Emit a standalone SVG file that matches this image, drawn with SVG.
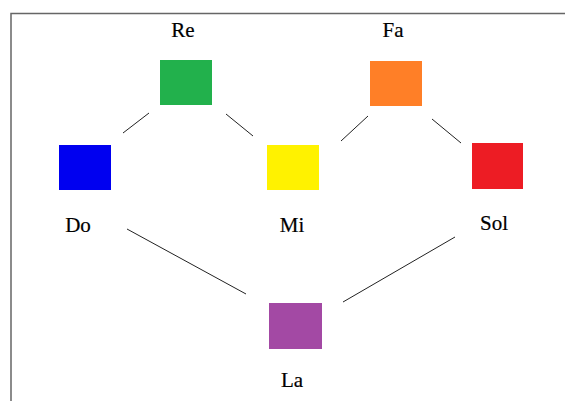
<svg xmlns="http://www.w3.org/2000/svg" width="565" height="401" viewBox="0 0 565 401">
<style>
.lbl{font-family:"Liberation Serif","Times New Roman",serif;font-size:21px;fill:#000;stroke:#000;stroke-width:0.2;text-anchor:middle}
.edge{stroke:#222;stroke-width:1;fill:none}
</style>
<rect width="565" height="401" fill="#fff"/>
<path d="M11 401 V13.5 H565" fill="none" stroke="#666" stroke-width="1.5"/>
<g id="connectors">
<line class="edge" x1="123" y1="133" x2="149" y2="113"/>
<line class="edge" x1="226" y1="114" x2="253" y2="136"/>
<line class="edge" x1="368" y1="116" x2="341" y2="141"/>
<line class="edge" x1="432" y1="119" x2="461" y2="143"/>
<line class="edge" x1="127" y1="229" x2="246" y2="294"/>
<line class="edge" x1="455" y1="237" x2="343" y2="302"/>
</g>
<g id="Re"><rect x="160" y="60" width="52" height="45" fill="#22b14c"/><text class="lbl" x="183" y="37">Re</text></g>
<g id="Fa"><rect x="370" y="61" width="52" height="45" fill="#ff7f27"/><text class="lbl" x="393" y="37">Fa</text></g>
<g id="Do"><rect x="59" y="145" width="52" height="45" fill="#0000f0"/><text class="lbl" x="78" y="232">Do</text></g>
<g id="Mi"><rect x="267" y="145" width="52" height="45" fill="#fff200"/><text class="lbl" x="292" y="232">Mi</text></g>
<g id="Sol"><rect x="472" y="143" width="51" height="46" fill="#ed1c24"/><text class="lbl" x="494" y="230">Sol</text></g>
<g id="La"><rect x="269" y="303" width="53" height="46" fill="#a349a4"/><text class="lbl" x="292" y="387">La</text></g>
</svg>
